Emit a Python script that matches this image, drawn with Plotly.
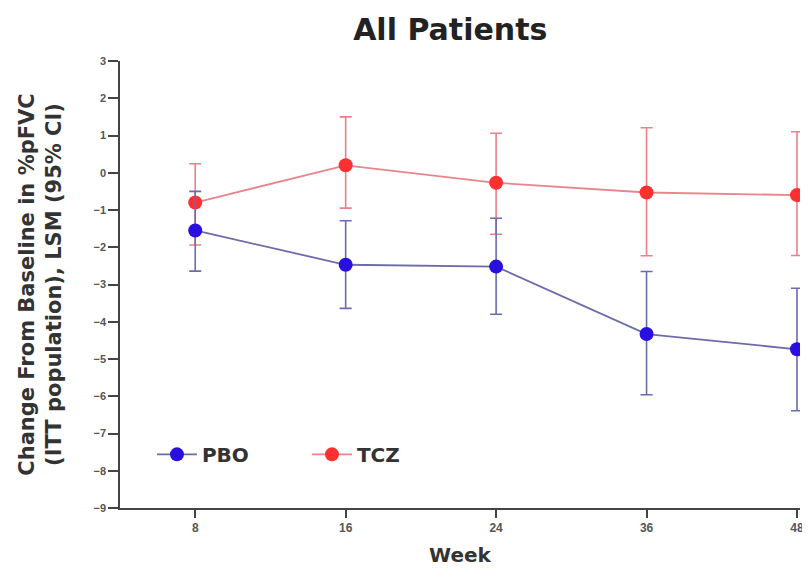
import plotly.graph_objects as go

weeks = ["8", "16", "24", "36", "48"]
pbo_mean = [-1.55, -2.47, -2.52, -4.33, -4.74]
pbo_lo = [-2.64, -3.64, -3.80, -5.96, -6.39]
pbo_hi = [-0.50, -1.29, -1.22, -2.65, -3.10]
tcz_mean = [-0.80, 0.20, -0.27, -0.53, -0.60]
tcz_lo = [-1.94, -0.95, -1.65, -2.23, -2.22]
tcz_hi = [0.24, 1.50, 1.06, 1.21, 1.10]

FONT = "Liberation Sans, Arial, sans-serif"
WIDE = "DejaVu Sans, Liberation Sans, sans-serif"

def err(mean, lo, hi, color):
    return dict(type="data", symmetric=False,
                array=[h - m for h, m in zip(hi, mean)],
                arrayminus=[m - l for m, l in zip(mean, lo)],
                color=color, thickness=1.6, width=6)

fig = go.Figure()
fig.add_trace(go.Scatter(
    x=weeks, y=tcz_mean, name="TCZ", mode="lines+markers",
    line=dict(color="#e8858c", width=1.8),
    marker=dict(color="#ff3030", size=14),
    error_y=err(tcz_mean, tcz_lo, tcz_hi, "#ec8088"),
))
fig.add_trace(go.Scatter(
    x=weeks, y=pbo_mean, name="PBO", mode="lines+markers",
    line=dict(color="#6c6ca8", width=1.8),
    marker=dict(color="#2a10e0", size=14),
    error_y=err(pbo_mean, pbo_lo, pbo_hi, "#6a6ab0"),
))

fig.update_layout(
    width=810, height=577,
    paper_bgcolor="white", plot_bgcolor="white",
    margin=dict(l=112, r=18, t=53, b=77),
    title=dict(text="All Patients", x=0.546, xanchor="center", y=0.962, yanchor="middle",
               font=dict(family=WIDE, size=30, color="#222", weight="bold")),
    showlegend=True,
    legend=dict(orientation="h", x=0.047, y=0.12, xanchor="left", yanchor="middle",
                traceorder="reversed", bgcolor="rgba(0,0,0,0)",
                font=dict(family=WIDE, size=20, color="#333", weight="bold"),
                itemwidth=40, entrywidth=100),
)
fig.update_xaxes(
    type="category", range=[-0.5, 4.02], automargin=False,
    showline=True, linecolor="#444", linewidth=1.5,
    ticks="outside", ticklen=8, tickcolor="#444", tickwidth=1.5,
    showgrid=False, zeroline=False,
    tickfont=dict(family=FONT, size=12, color="#555", weight="bold"),
    title=dict(text="Week", standoff=14,
               font=dict(family=WIDE, size=20, color="#333", weight="bold")),
)
fig.update_yaxes(
    range=[-9, 3], dtick=1, automargin=False,
    showline=True, linecolor="#444", linewidth=1.5,
    ticks="outside", ticklen=10, tickcolor="#444", tickwidth=1.5,
    showgrid=False, zeroline=False,
    tickfont=dict(family=FONT, size=11, color="#555", weight="bold"),
    title=dict(text="Change From Baseline in %pFVC<br>(ITT population), LSM (95% CI)", standoff=26,
               font=dict(family=WIDE, size=21, color="#333", weight="bold")),
)

fig.write_html("out.html")
